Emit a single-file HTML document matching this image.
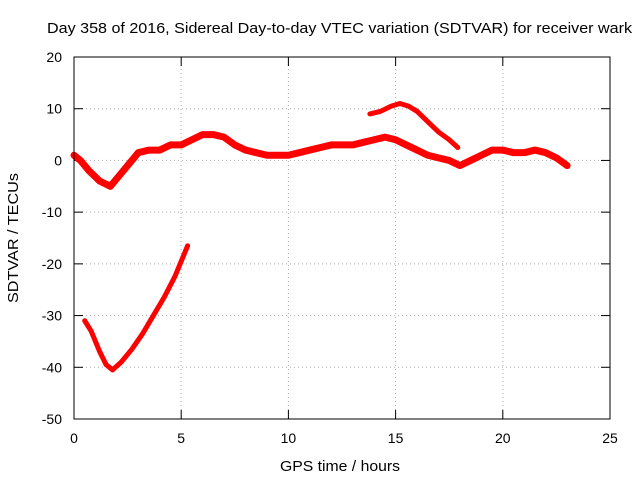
<!DOCTYPE html>
<html><head><meta charset="utf-8"><style>
body{margin:0;background:#fff}
svg{display:block;font-family:"Liberation Sans",sans-serif}
</style></head><body>
<svg id="chart" width="640" height="480">
<text x="47" y="33" textLength="585" lengthAdjust="spacingAndGlyphs" font-size="15">Day 358 of 2016, Sidereal Day-to-day VTEC variation (SDTVAR) for receiver wark</text>
<text x="280" y="471" textLength="120" lengthAdjust="spacingAndGlyphs" font-size="15">GPS time / hours</text>
<text transform="translate(18,303) rotate(-90)" textLength="130" lengthAdjust="spacingAndGlyphs" font-size="15">SDTVAR / TECUs</text>
<g id="grid"></g><g id="ticks"></g><g id="series"></g>
<rect x="74" y="57" width="536" height="362" fill="none" stroke="#000"/>
</svg>
<script>
const xTicks=[0,5,10,15,20,25];
const yTicks=[20,10,0,-10,-20,-30,-40,-50];
const mainX=[0,0.3,0.7,1.2,1.7,2.1,2.5,3,3.5,4,4.5,5,5.5,6,6.5,7,7.5,8,8.5,9,9.5,10,10.5,11,11.5,12,12.5,13,13.5,14,14.5,15,15.5,16,16.5,17,17.5,18,18.5,19,19.5,20,20.5,21,21.5,22,22.5,23];
const mainY=[1,0,-2,-4,-5,-3,-1,1.5,2,2,3,3,4,5,5,4.5,3,2,1.5,1,1,1,1.5,2,2.5,3,3,3,3.5,4,4.5,4,3,2,1,0.5,0,-1,0,1,2,2,1.5,1.5,2,1.5,0.5,-1];
const lowX=[0.5,0.8,1.2,1.5,1.8,2.2,2.7,3.2,3.7,4.2,4.7,5.0,5.3];
const lowY=[-31,-33,-37,-39.5,-40.5,-39,-36.5,-33.5,-30,-26.5,-22.5,-19.5,-16.5];
const upX=[13.8,14.3,14.8,15.2,15.6,16,16.5,17,17.5,17.9];
const upY=[9,9.5,10.5,11,10.5,9.5,7.5,5.5,4,2.5];
const NS="http://www.w3.org/2000/svg";
const sx=v=>74+v*536/25, sy=v=>57+(20-v)*362/70;
function mk(t,a,p){const e=document.createElementNS(NS,t);for(const k in a)e.setAttribute(k,a[k]);document.getElementById(p).appendChild(e);return e;}
xTicks.forEach(t=>{
 if(t>0&&t<25){const g=mk('line',{x1:sx(t),x2:sx(t),y1:57,y2:419,stroke:'#aaa','stroke-dasharray':'1,3'},'grid');
 }
 mk('line',{x1:sx(t),x2:sx(t),y1:419,y2:410,stroke:'#000'},'ticks');
 mk('line',{x1:sx(t),x2:sx(t),y1:57,y2:66,stroke:'#000'},'ticks');
 const l=mk('text',{x:sx(t),y:443,'text-anchor':'middle','font-size':14},'ticks');l.textContent=t;
 
});
yTicks.forEach(t=>{
 if(t>-50&&t<20){const g=mk('line',{x1:74,x2:610,y1:sy(t),y2:sy(t),stroke:'#aaa','stroke-dasharray':'1,3'},'grid');
 }
 mk('line',{x1:74,x2:83,y1:sy(t),y2:sy(t),stroke:'#000'},'ticks');
 mk('line',{x1:610,x2:601,y1:sy(t),y2:sy(t),stroke:'#000'},'ticks');
 const l=mk('text',{x:62,y:sy(t)+5,'text-anchor':'end','font-size':14},'ticks');l.textContent=t;
 
});
function series(xs,ys,name,w){
 const p=mk('polyline',{points:xs.map((x,i)=>sx(x)+','+sy(ys[i])).join(' '),fill:'none',stroke:'#f00','stroke-width':w,'stroke-linejoin':'round','stroke-linecap':'round'},'series');
 
}
series(mainX,mainY,'series-main',7);
series(lowX,lowY,'series-low',5);
series(upX,upY,'series-high',5);
</script>
</body></html>
